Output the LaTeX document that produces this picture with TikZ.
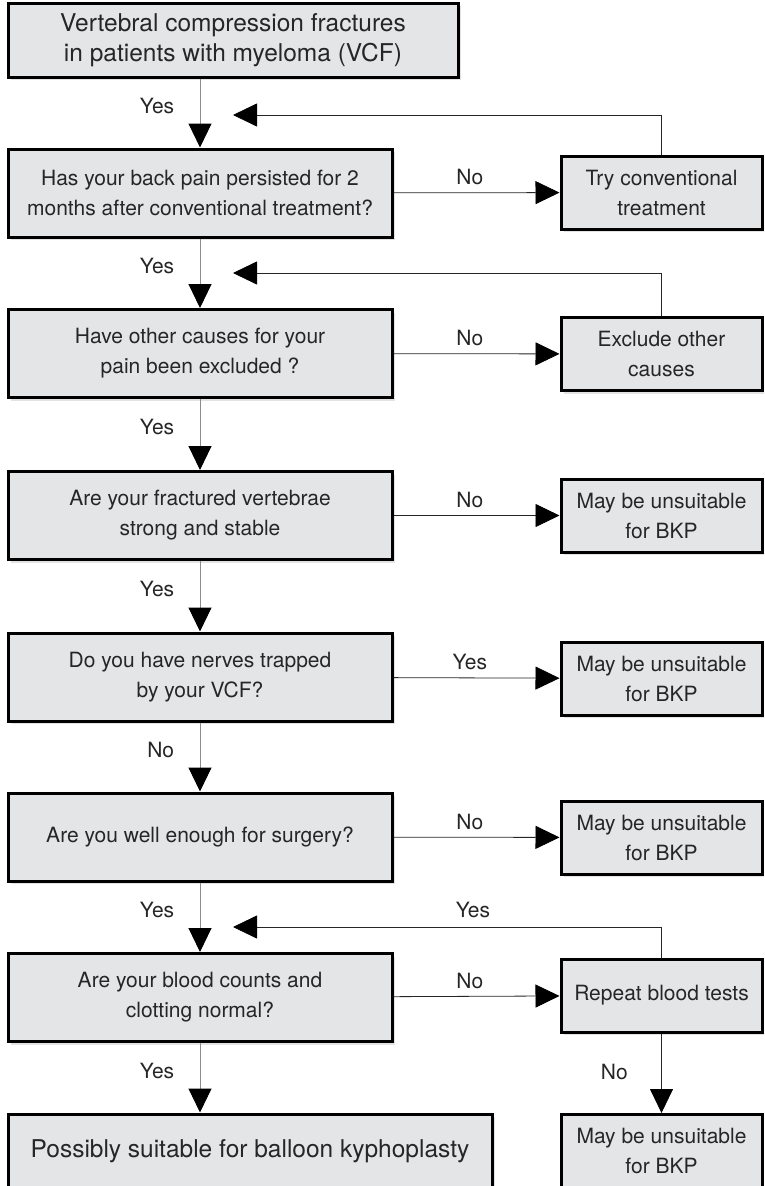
\documentclass[tikz,border=0pt]{standalone}
\usepackage{fontspec}
\setmainfont{TeX Gyre Heros}
\usepackage{xcolor}
\usetikzlibrary{arrows.meta,positioning,shadows}

\definecolor{boxgray}{HTML}{E4E5E7}
\definecolor{textgray}{HTML}{262626}

\begin{document}
\begin{tikzpicture}[x=1pt, y=-1pt,
    box/.style={rectangle, draw=black, line width=3pt, fill=boxgray, text=textgray, align=center, inner sep=0pt,
        drop shadow={shadow xshift=3pt, shadow yshift=-3pt, opacity=0.22},
        font=\fontsize{21}{30}\selectfont},
    mainbox/.style={box, minimum width=384pt, minimum height=88pt},
    sidebox/.style={box, minimum width=201pt, minimum height=73pt},
    bigbox/.style={box, font=\fontsize{24.5}{30}\selectfont},
    down/.style={-{Triangle[width=23pt,length=24pt,color=black]}, draw=black!45, line width=1pt},
    side/.style={-{Triangle[width=23pt,length=24pt,color=black]}, draw=black!85, line width=0.8pt},
    lbl/.style={text=textgray, font=\fontsize{21}{24}\selectfont}]

    \useasboundingbox (0,0) rectangle (764,1186);
    \clip (0,0) rectangle (764,1186);

    % Start
    \node[bigbox, minimum width=450pt, minimum height=74pt] (start) at (233,40) {Vertebral compression fractures\\in patients with myeloma (VCF)};

    % Questions
    \node[mainbox] (persist) at (200,193) {Has your back pain persisted for 2\\months after conventional treatment?};
    \node[mainbox] (causes) at (200,353.5) {Have other causes for your\\pain been excluded ?};
    \node[mainbox] (stable) at (200,515.5) {Are your fractured vertebrae\\strong and stable};
    \node[mainbox] (nerves) at (200,677) {Do you have nerves trapped\\by your VCF?};
    \node[mainbox] (surgery) at (200,837) {Are you well enough for surgery?};
    \node[mainbox] (blood) at (200,997.5) {Are your blood counts and\\clotting normal?};

    % Result
    \node[bigbox, minimum width=484pt, minimum height=74pt] (suitable) at (250,1151) {Possibly suitable for balloon kyphoplasty};

    % Side boxes
    \node[sidebox] (trycon) at (661.5,192.5) {Try conventional\\treatment};
    \node[sidebox] (exclude) at (661.5,354) {Exclude other\\causes};
    \node[sidebox] (unsuit1) at (661.5,515.5) {May be unsuitable\\for BKP};
    \node[sidebox] (unsuit2) at (661.5,678.5) {May be unsuitable\\for BKP};
    \node[sidebox] (unsuit3) at (661.5,837.5) {May be unsuitable\\for BKP};
    \node[sidebox] (retest) at (661.5,995.5) {Repeat blood tests};
    \node[sidebox] (unsuit4) at (661.5,1151) {May be unsuitable\\for BKP};

    % Main line
    \draw[down] (persist.north |- start.south) -- node[lbl, left=22pt, pos=0.4] {Yes} (persist.north);
    \draw[down] (persist.south) -- node[lbl, left=22pt, pos=0.4] {Yes} (causes.north);
    \draw[down] (causes.south) -- node[lbl, left=22pt, pos=0.4] {Yes} (stable.north);
    \draw[down] (stable.south) -- node[lbl, left=22pt, pos=0.4] {Yes} (nerves.north);
    \draw[down] (nerves.south) -- node[lbl, left=22pt, pos=0.4] {No} (surgery.north);
    \draw[down] (surgery.south) -- node[lbl, left=22pt, pos=0.4] {Yes} (blood.north);
    \draw[down] (blood.south) -- node[lbl, left=22pt, pos=0.4] {Yes} (blood.south |- suitable.north);

    % Side branches
    \draw[side] (persist) -- node[lbl, above=4pt, pos=0.46] {No} (trycon);
    \draw[side] (causes) -- node[lbl, above=4pt, pos=0.46] {No} (exclude);
    \draw[side] (stable) -- node[lbl, above=4pt, pos=0.46] {No} (unsuit1);
    \draw[side] (nerves) -- node[lbl, above=4pt, pos=0.46] {Yes} (unsuit2);
    \draw[side] (surgery) -- node[lbl, above=4pt, pos=0.46] {No} (unsuit3);
    \draw[side] (blood) -- node[lbl, above=4pt, pos=0.46] {No} (retest);
    \draw[side] (retest) -- node[lbl, left=30pt, pos=0.49] {No} (unsuit4);

    % Loops back
    \coordinate (back1) at (233,115);
    \coordinate (back2) at (233,273);
    \coordinate (back3) at (233,927);
    \draw[side] (trycon.north) |- (back1);
    \draw[side] (exclude.north) |- (back2);
    \draw[side] (retest.north) |- node[lbl, above=5pt, pos=0.72] {Yes} (back3);
\end{tikzpicture}
\end{document}
